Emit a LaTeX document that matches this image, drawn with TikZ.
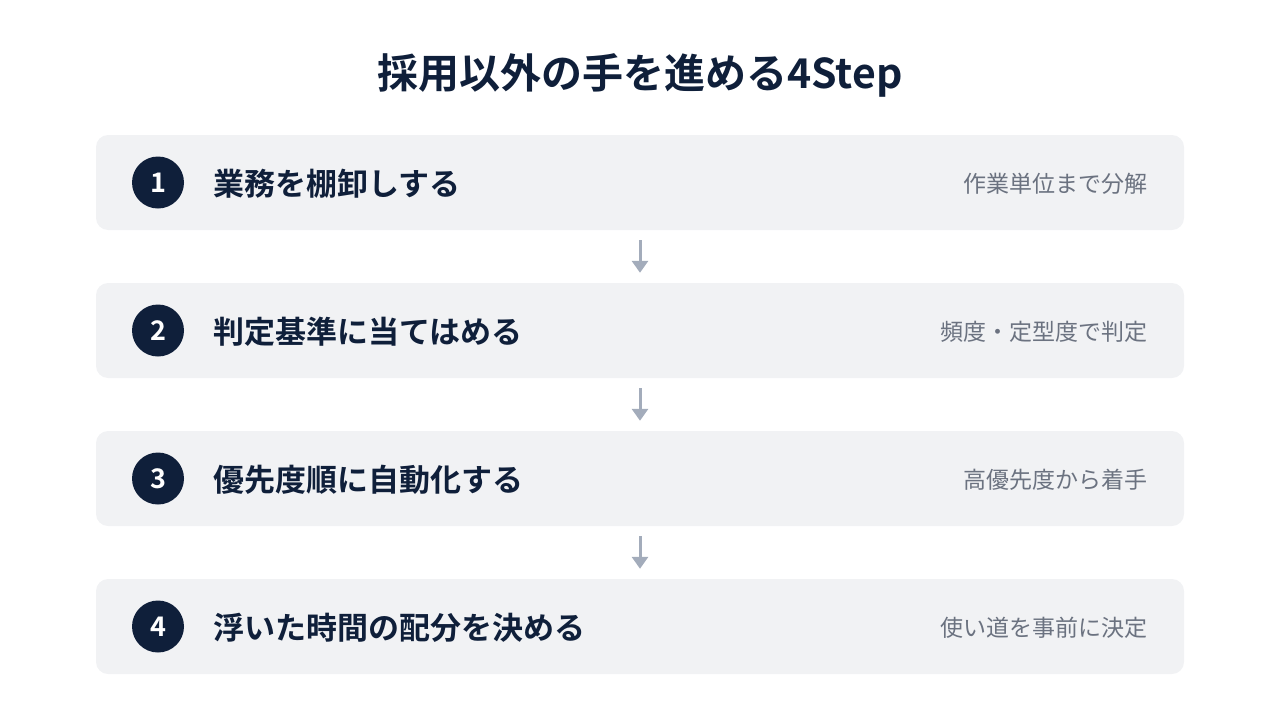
\documentclass[tikz,border=0pt]{standalone}
\usepackage{fontspec}
\setmainfont{Noto Sans CJK JP}[BoldFont={Noto Sans CJK JP Bold}]
\usetikzlibrary{positioning,arrows.meta}
\definecolor{navy}{HTML}{0F1F3A}
\definecolor{boxgray}{HTML}{F1F2F4}
\definecolor{subgray}{HTML}{6B7280}
\definecolor{arrowgray}{HTML}{A3ACBB}
\begin{document}
\begin{tikzpicture}[x=1pt,y=-1pt,
        stepbox/.style={fill=boxgray,rounded corners=12pt,minimum width=1088pt,minimum height=95pt,inner sep=0pt},
        num/.style={circle,fill=navy,minimum size=52pt,inner sep=0pt,text=white,font=\bfseries\fontsize{27}{32}\selectfont},
        task/.style={anchor=west,inner sep=0pt,text=navy,font=\bfseries\fontsize{31}{37}\selectfont},
        note/.style={anchor=east,inner sep=0pt,text=subgray,font=\fontsize{23}{27}\selectfont},
        flow/.style={arrowgray,line width=3pt,-{Triangle[width=16pt,length=12pt]}}]
        \useasboundingbox (0,0) rectangle (1280,720);
        % title
        \node[text=navy,font=\bfseries\fontsize{41}{49}\selectfont] (title) at (640,75) {採用以外の手を進める4Step};
        % steps
        \node[stepbox] (b1) at (640,182.5) {};
        \node[num] (n1) at (158,182.5) {1};
        \node[task] (t1) at (213,184) {業務を棚卸しする};
        \node[note] (s1) at (1148,184) {作業単位まで分解};
        \node[stepbox] (b2) at (640,330.5) {};
        \node[num] (n2) at (158,330.5) {2};
        \node[task] (t2) at (213,332) {判定基準に当てはめる};
        \node[note] (s2) at (1148,332) {頻度・定型度で判定};
        \node[stepbox] (b3) at (640,478.5) {};
        \node[num] (n3) at (158,478.5) {3};
        \node[task] (t3) at (213,480) {優先度順に自動化する};
        \node[note] (s3) at (1148,480) {高優先度から着手};
        \node[stepbox] (b4) at (640,626.5) {};
        \node[num] (n4) at (158,626.5) {4};
        \node[task] (t4) at (213,628) {浮いた時間の配分を決める};
        \node[note] (s4) at (1148,628) {使い道を事前に決定};
        % arrows
        \draw[flow] ([yshift=-10pt]b1.south) -- ([yshift=10pt]b2.north);
        \draw[flow] ([yshift=-10pt]b2.south) -- ([yshift=10pt]b3.north);
        \draw[flow] ([yshift=-10pt]b3.south) -- ([yshift=10pt]b4.north);
\end{tikzpicture}
\end{document}
